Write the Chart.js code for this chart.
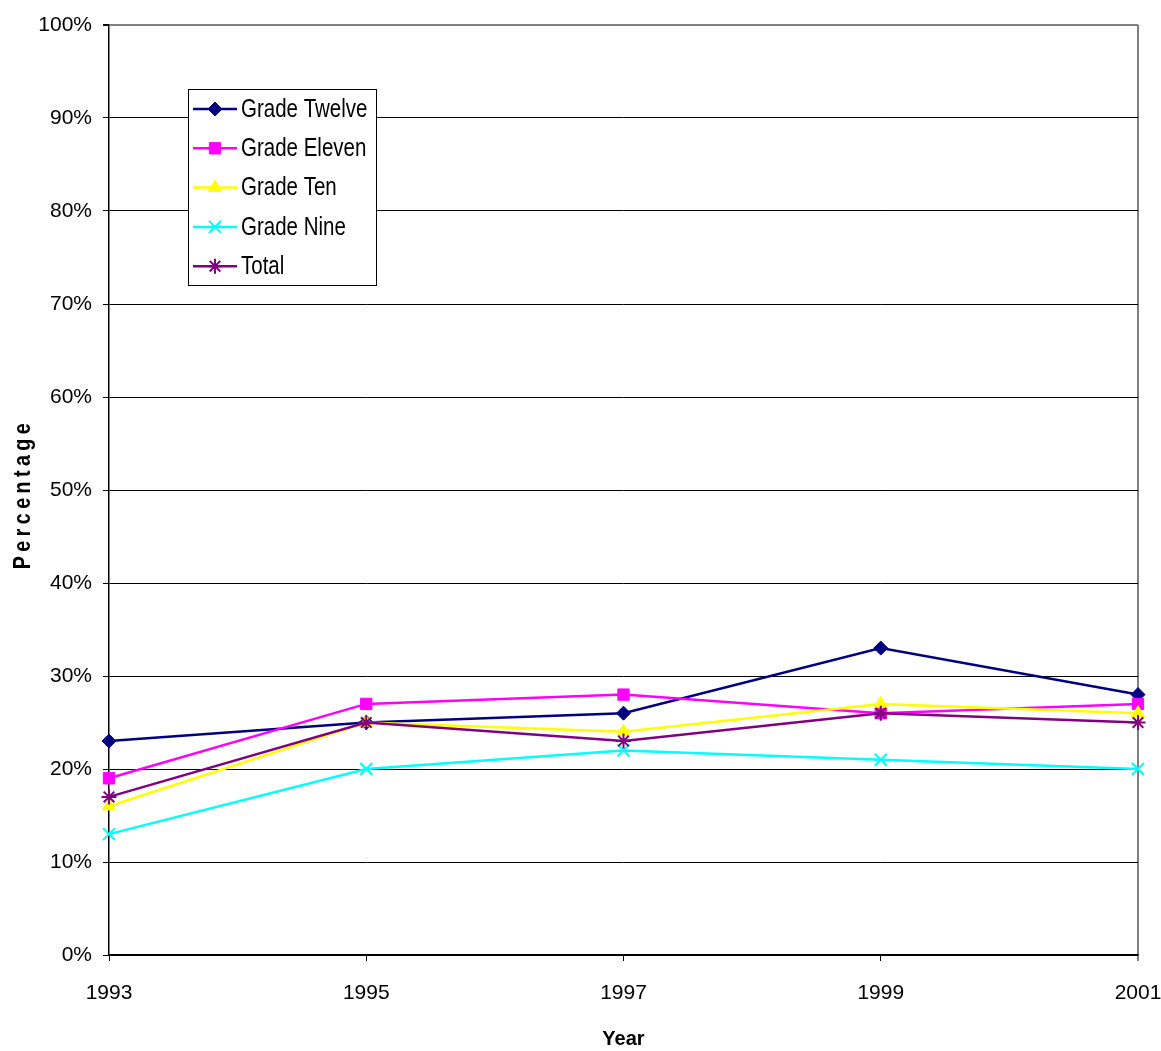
<!DOCTYPE html>
<html>
<head>
<meta charset="utf-8">
<script src="https://cdn.jsdelivr.net/npm/chart.js@4.4.1/dist/chart.umd.min.js"></script>
<style>
  html, body { margin: 0; padding: 0; background: #ffffff; }
  #wrap { width: 1161px; height: 1051px; }
</style>
</head>
<body>
<div id="wrap"><canvas id="chart" width="1161" height="1051"></canvas></div>
<script>
// Survey years on the horizontal axis
const years = ['1993', '1995', '1997', '1999', '2001'];

// Percentage of students per grade, by year
const gradeTwelve = [23, 25, 26, 33, 28];
const gradeEleven = [19, 27, 28, 26, 27];
const gradeTen    = [16, 25, 24, 27, 26];
const gradeNine   = [13, 20, 22, 21, 20];
const total       = [17, 25, 23, 26, 25];

const seriesNames = ['Grade Twelve', 'Grade Eleven', 'Grade Ten', 'Grade Nine', 'Total'];

// Vertical axis range and step (percent)
const yMin = 0;
const yMax = 100;
const yStep = 10;

const FONT = "'Liberation Sans', Arial, sans-serif";
// Horizontal squeeze used for hand-drawn text to get a narrow face
const NARROW = 0.82;

function series(label, data, color, pointStyle, radius, borderWidth, order) {
  return {
    label, data, order,
    borderColor: color,
    backgroundColor: color,
    borderWidth: 2.5,
    pointStyle,
    pointRadius: radius,
    pointHoverRadius: radius,
    pointBorderWidth: borderWidth,
    pointBorderColor: color,
    pointBackgroundColor: color,
    tension: 0,
    fill: false,
    clip: false
  };
}

// Boxed legend inside the plot, each entry a line sample with its marker
const boxLegend = {
  id: 'boxLegend',
  afterDraw(chart) {
    const ctx = chart.ctx;
    const x0 = 188.5, y0 = 89.5, w = 188, h = 196;
    ctx.save();
    ctx.fillStyle = '#ffffff';
    ctx.fillRect(x0, y0, w, h);
    ctx.strokeStyle = '#000000';
    ctx.lineWidth = 1;
    ctx.strokeRect(x0, y0, w, h);
    chart.data.datasets.forEach((ds, i) => {
      const cy = 109 + i * 39.3;
      ctx.strokeStyle = ds.borderColor;
      ctx.lineWidth = ds.borderWidth;
      ctx.beginPath();
      ctx.moveTo(193, cy);
      ctx.lineTo(237, cy);
      ctx.stroke();
      ctx.fillStyle = ds.pointBackgroundColor;
      ctx.strokeStyle = ds.pointBorderColor;
      ctx.lineWidth = ds.pointBorderWidth;
      Chart.helpers.drawPoint(ctx, {
        pointStyle: ds.pointStyle,
        radius: ds.pointRadius,
        borderWidth: ds.pointBorderWidth,
        rotation: 0
      }, 215, cy);
      ctx.save();
      ctx.translate(241, cy + 1);
      ctx.scale(NARROW, 1);
      ctx.fillStyle = '#000000';
      ctx.font = '25px ' + FONT;
      ctx.textBaseline = 'middle';
      ctx.textAlign = 'left';
      ctx.fillText(ds.label, 0, 0);
      ctx.restore();
    });
    ctx.restore();
  }
};

// Spaced-out, rotated title for the vertical axis
const yAxisTitle = {
  id: 'yAxisTitle',
  afterDraw(chart) {
    const ctx = chart.ctx;
    const area = chart.chartArea;
    ctx.save();
    ctx.translate(23, (area.top + area.bottom) / 2 + 4);
    ctx.rotate(-Math.PI / 2);
    ctx.scale(NARROW, 1);
    ctx.font = 'bold 24px ' + FONT;
    ctx.fillStyle = '#000000';
    ctx.textAlign = 'center';
    ctx.textBaseline = 'middle';
    if ('letterSpacing' in ctx) ctx.letterSpacing = '5.4px';
    ctx.fillText('Percentage', 0, 0);
    ctx.restore();
  }
};

const chart = new Chart(document.getElementById('chart'), {
  type: 'line',
  data: {
    labels: years,
    datasets: [
      series(seriesNames[0], gradeTwelve, '#000080', 'rectRot', 7, 1, 4),
      series(seriesNames[1], gradeEleven, '#FF00FF', 'rect', 8, 1, 3),
      series(seriesNames[2], gradeTen, '#FFFF00', 'triangle', 7.5, 1, 2),
      series(seriesNames[3], gradeNine, '#00FFFF', 'crossRot', 8.5, 2, 1),
      series(seriesNames[4], total, '#800080', 'star', 7.5, 2, 0)
    ]
  },
  options: {
    responsive: false,
    animation: false,
    devicePixelRatio: 1,
    layout: { padding: { left: 0, right: 23, top: 25, bottom: 0 } },
    plugins: {
      legend: { display: false },
      tooltip: { enabled: false },
      title: { display: false }
    },
    scales: {
      x: {
        type: 'category',
        offset: false,
        afterFit(scale) {
          scale.height = 96;
          scale.paddingLeft = 0;
          scale.paddingRight = 0;
        },
        grid: {
          display: true,
          drawOnChartArea: true,
          offset: false,
          color: (c) => (c.index === years.length - 1 ? '#808080' : 'rgba(0,0,0,0)'),
          lineWidth: (c) => (c.index === years.length - 1 ? 2 : 1),
          tickColor: '#000000',
          tickLength: 6,
          tickWidth: 1
        },
        border: { display: true, color: '#000000', width: 1.5 },
        ticks: {
          color: '#000000',
          font: { family: FONT, size: 21 },
          padding: 20,
          maxRotation: 0,
          autoSkip: false
        },
        title: {
          display: true,
          text: 'Year',
          color: '#000000',
          font: { family: FONT, size: 20, weight: 'bold' },
          padding: { top: 0, bottom: 0 }
        }
      },
      y: {
        min: yMin,
        max: yMax,
        afterFit(scale) {
          scale.width = 109;
          scale.paddingTop = 0;
          scale.paddingBottom = 0;
        },
        grid: {
          color: (c) => (c.tick && c.tick.value === yMax ? '#808080' : '#000000'),
          lineWidth: (c) => (c.tick && c.tick.value === yMax ? 2 : 1),
          tickColor: '#000000',
          tickLength: 6
        },
        border: { display: true, color: '#000000', width: 1.5 },
        ticks: {
          stepSize: yStep,
          color: '#000000',
          font: { family: FONT, size: 21 },
          padding: 11,
          callback: (v) => v + '%'
        }
      }
    }
  },
  plugins: [boxLegend, yAxisTitle]
});
</script>
</body>
</html>
